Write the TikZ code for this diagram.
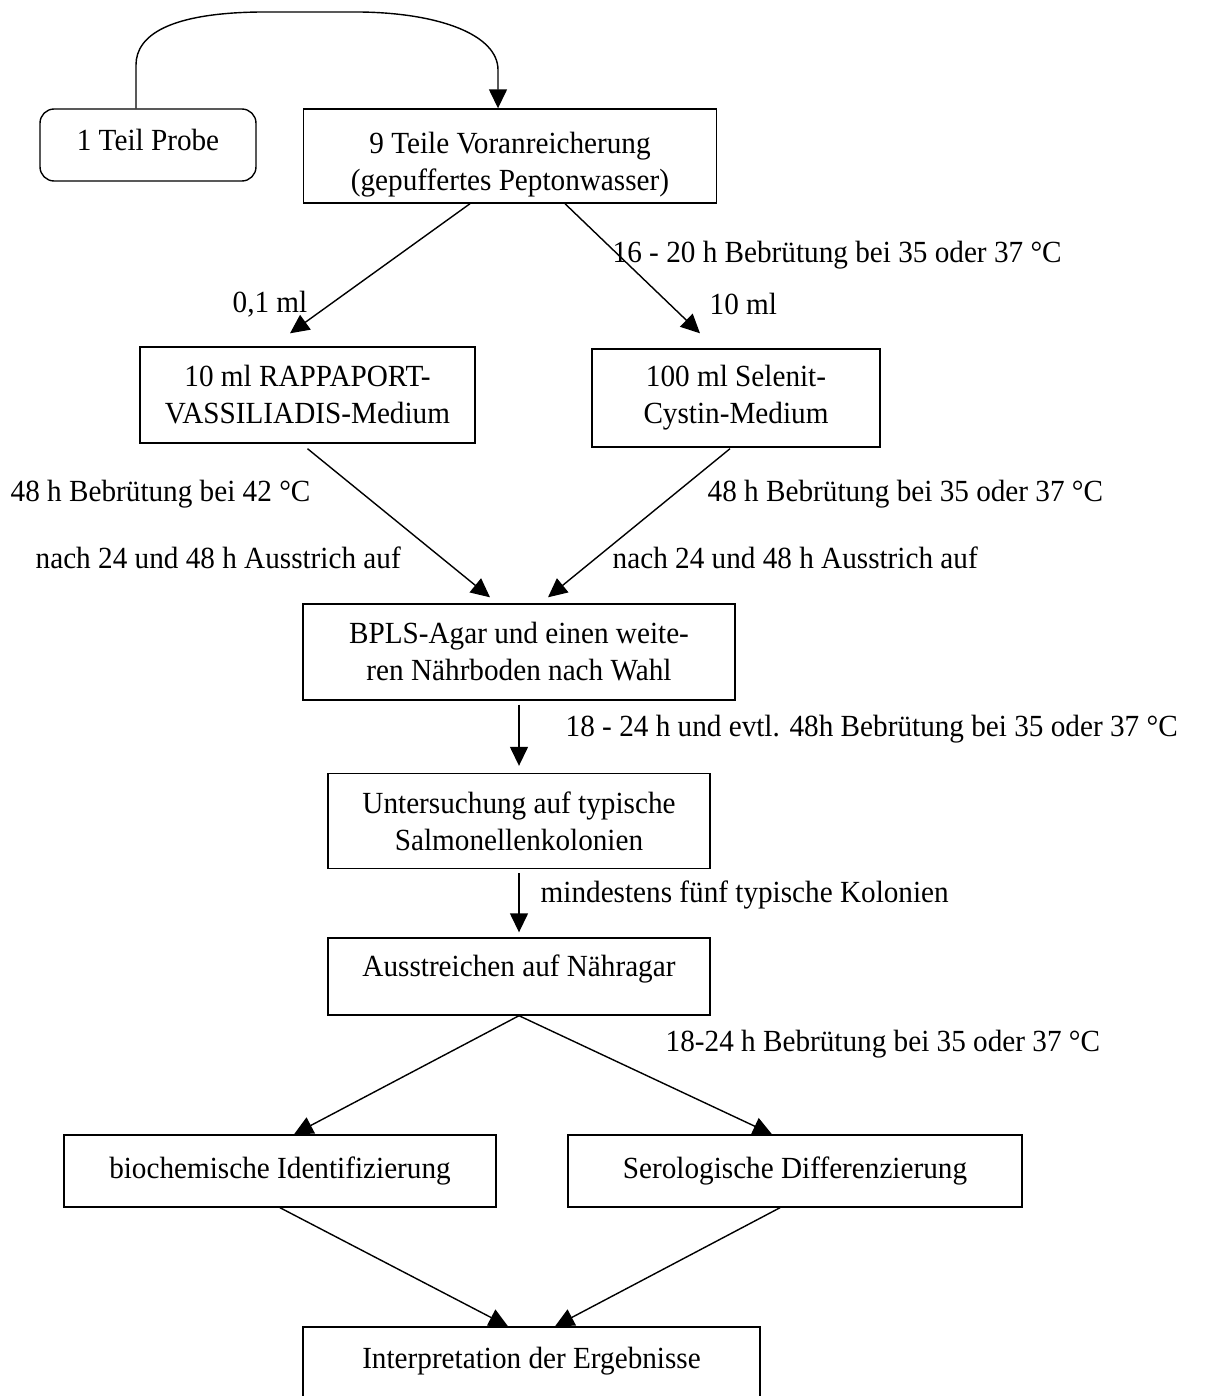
\documentclass[tikz,border=0pt]{standalone}
\usepackage{fontspec}
\setmainfont[FakeStretch=0.95]{Liberation Serif}
\usepackage{tikz}
\usetikzlibrary{arrows.meta, positioning, calc}

\begin{document}
\begin{tikzpicture}[x=0.02cm, y=-0.02cm, line width=0.8pt,
   -{Triangle[length=0.38cm, width=0.36cm]},
   box/.style = {draw, -, inner sep=0pt, align=center, font=\fontsize{17.5}{21}\selectfont},
   lbl/.style = {inner sep=0pt, anchor=west, font=\fontsize{17.5}{21}\selectfont}]
   \useasboundingbox (0,0) rectangle (1207,1396);

   \node[box, rounded corners=8pt, minimum width=4.32cm, minimum height=1.44cm, text depth=0.2cm] (probe) at (148,145) {1 Teil Probe};
   \node[box, minimum width=8.26cm, minimum height=1.88cm, text height=1.52cm] (vor) at (510,156) {9 Teile Voranreicherung\\(gepuffertes Peptonwasser)};
   \node[box, minimum width=6.7cm, minimum height=1.92cm] (rapp) at (307.5,395) {10 ml RAPPAPORT-\\VASSILIADIS-Medium};
   \node[box, minimum width=5.76cm, minimum height=1.96cm] (sel) at (736,398) {100 ml Selenit-\\Cystin-Medium};
   \node[box, minimum width=8.64cm, minimum height=1.92cm] (bpls) at (519,652) {BPLS-Agar und einen weite-\\ren Nährboden nach Wahl};
   \node[box, minimum width=7.64cm, minimum height=1.9cm] (unt) at (519,821) {Untersuchung auf typische\\Salmonellenkolonien};
   \node[box, minimum width=7.64cm, minimum height=1.54cm, text height=13pt, text depth=13pt] (aus) at (519,976.5) {Ausstreichen auf Nähragar};
   \node[box, minimum width=8.64cm, minimum height=1.44cm] (bio) at (280,1171) {biochemische Identifizierung};
   \node[box, minimum width=9.08cm, minimum height=1.44cm] (ser) at (795,1171) {Serologische Differenzierung};
   \node[box, minimum width=9.14cm, minimum height=1.64cm, text height=13pt, text depth=13pt] (interp) at (531.5,1368) {Interpretation der Ergebnisse};

   % labels
   \node[lbl] (bebr1) at (612,255) {16 - 20 h Bebrütung bei 35 oder 37 °C};
   \node[lbl, anchor=east] (ml1) at (308,304) {0,1 ml};
   \node[lbl] (ml2) at (709,304) {10 ml};
   \node[lbl] (bebr2) at (10,494) {48 h Bebrütung bei 42 °C};
   \node[lbl] (bebr3) at (707,494) {48 h Bebrütung bei 35 oder 37 °C};
   \node[lbl] (ausstr1) at (35,558) {nach 24 und 48 h Ausstrich auf};
   \node[lbl] (ausstr2) at (612,558) {nach 24 und 48 h Ausstrich auf};
   \node[lbl] (bebr4) at (565,729) {18 - 24 h und evtl. 48h Bebrütung bei 35 oder 37 °C};
   \node[lbl] (kol) at (540,895) {mindestens fünf typische Kolonien};
   \node[lbl] (bebr5) at (665,1044) {18-24 h Bebrütung bei 35 oder 37 °C};

   \draw ([xshift=-0.24cm]probe.north) -- (136,65) .. controls (136,35) and (170,13) .. (260,12)
      -- (360,12) .. controls (440,13) and (498,35) .. (498,70) -- ([xshift=-0.24cm]vor.north);
   %
   \draw ([xshift=-0.8cm]vor.south) -- ([xshift=-0.35cm, yshift=0.26cm]rapp.north);
   \draw ([xshift=1.1cm]vor.south) -- ([xshift=-0.72cm, yshift=0.3cm]sel.north);
   %
   \draw ([yshift=-0.1cm]rapp.south) -- ([xshift=-0.58cm, yshift=0.12cm]bpls.north);
   \draw ([xshift=-0.12cm, yshift=-0.02cm]sel.south) -- ([xshift=0.58cm, yshift=0.12cm]bpls.north);
   %
   \draw ([yshift=-0.08cm]bpls.south) -- ([yshift=0.14cm]unt.north);
   \draw ([yshift=-0.08cm]unt.south) -- ([yshift=0.1cm]aus.north);
   %
   \draw (aus.south) -- ([xshift=0.28cm]bio.north);
   \draw (aus.south) -- ([xshift=-0.46cm]ser.north);
   %
   \draw (bio.south) -- ([xshift=-0.47cm]interp.north);
   \draw ([xshift=-0.3cm]ser.south) -- ([xshift=0.47cm]interp.north);
\end{tikzpicture}
\end{document}
